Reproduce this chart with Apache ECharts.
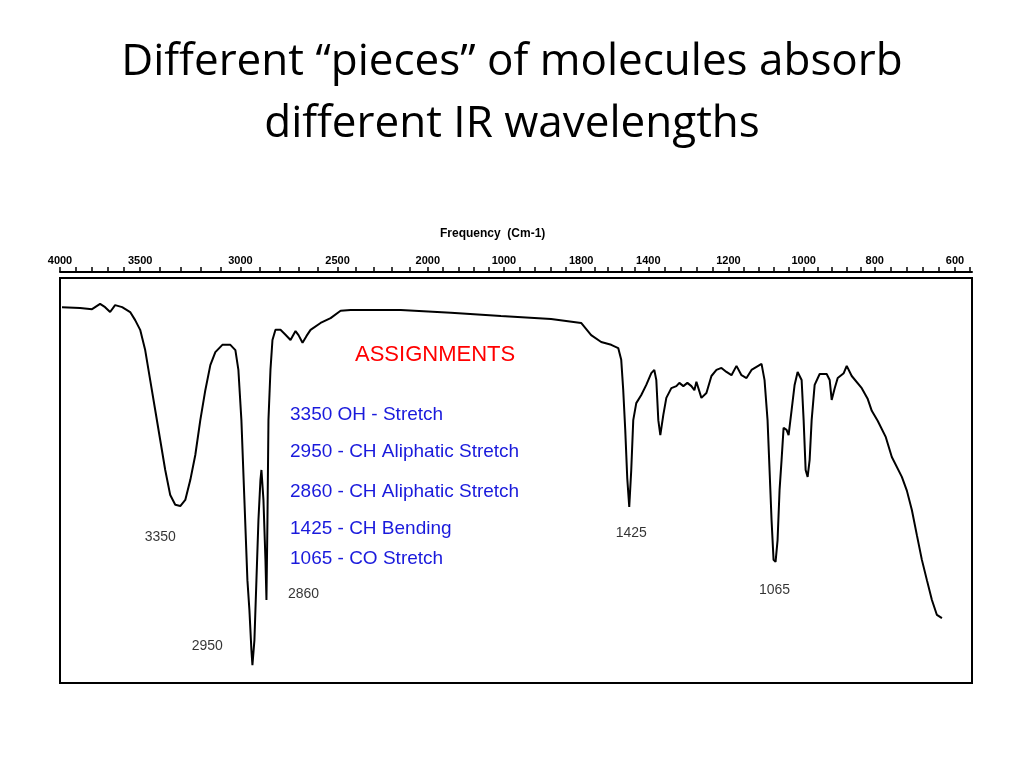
<!DOCTYPE html>
<html>
<head>
<meta charset="utf-8">
<script src="https://cdn.jsdelivr.net/npm/echarts@6/dist/echarts.min.js"></script>
<style>
  html, body { margin: 0; padding: 0; background: #fff; }
  #chart { width: 1024px; height: 768px; }
</style>
</head>
<body>
<div id="chart"></div>
<script>
// tick labels and where they sit along the (non-linear) frequency scale
const tickLabels = ['4000', '3500', '3000', '2500', '2000', '1000', '1800', '1400', '1200', '1000', '800', '600'];
const tickPos = [0, 80, 180, 277, 367, 443, 520, 587, 667, 742, 813, 893];

// spectrum trace: position along scale, % transmittance
const pos = [2, 20, 32, 40, 45, 50, 55, 62, 70, 75, 80, 85, 90, 95, 100, 105, 110, 115, 120, 125,
  130, 135, 140, 145, 150, 155, 162, 170, 175, 178, 181, 184, 187, 189, 191, 192, 194, 196, 198, 200,
  201, 203, 205, 206, 207, 208, 210, 212, 215, 220, 225, 230, 235, 238, 242, 246, 250, 260, 270, 280,
  290, 340, 390, 440, 490, 520, 530, 540, 550, 557, 560, 562, 564, 566, 568, 570, 572, 575, 580, 585,
  590, 593, 595, 597, 599, 602, 605, 610, 615, 618, 622, 626, 630, 633, 635, 640, 645, 650, 655, 660,
  665, 670, 675, 680, 685, 690, 700, 703, 706, 708, 710, 712, 714, 716, 718, 720, 722, 725, 727, 730,
  733, 736, 740, 742, 744, 746, 748, 750, 753, 758, 765, 768, 770, 773, 776, 782, 785, 790, 800, 806,
  810, 816, 824, 830, 840, 845, 850, 855, 860, 865, 870, 875, 880];
const trans = [92.8, 92.6, 92.3, 93.6, 92.8, 91.6, 93.3, 92.8, 91.6, 89.6, 87.2, 82.2, 74.8, 67.4, 60.0, 52.6, 46.4, 44.0, 43.7, 45.2,
  50.1, 56.3, 64.9, 72.3, 78.5, 81.7, 83.5, 83.5, 82.2, 77.3, 64.9, 45.2, 25.4, 18.0, 8.1, 4.4, 10.6, 25.4, 40.2, 50.1,
  52.6, 45.2, 30.4, 20.5, 40.2, 64.9, 77.3, 84.7, 87.2, 87.2, 86.0, 84.7, 86.9, 85.9, 84.0, 85.7, 87.2, 88.9, 90.1, 91.9,
  92.1, 92.1, 91.4, 90.6, 89.9, 88.9, 85.9, 84.2, 83.5, 82.7, 79.8, 72.3, 62.5, 50.6, 43.5, 52.6, 64.9, 69.1, 71.1, 73.6,
  76.5, 77.3, 74.8, 64.9, 61.2, 66.2, 70.4, 72.8, 73.3, 74.1, 73.3, 74.1, 73.3, 72.3, 74.4, 70.4, 71.6, 75.8, 77.3, 77.8,
  76.8, 76.0, 78.3, 76.0, 75.3, 77.3, 78.8, 74.8, 64.9, 52.6, 40.2, 30.4, 29.9, 35.3, 47.7, 55.1, 63.0, 62.5, 61.2, 67.4,
  73.6, 76.8, 74.8, 64.9, 52.6, 50.9, 55.1, 64.9, 73.6, 76.3, 76.3, 74.8, 69.9, 72.8, 75.3, 76.5, 78.3, 75.8, 72.8, 70.1,
  67.2, 64.7, 60.7, 55.8, 50.9, 47.5, 42.7, 36.5, 30.4, 25.4, 20.5, 16.8, 16.0];

// peak labels: [position, transmittance, text]
const peakLabels = [[100, 36, '3350'], [147, 9, '2950'], [243, 22, '2860'], [570, 37, '1425'], [713, 23, '1065']];
const assignTitle = 'ASSIGNMENTS';
const assignLines = ['3350 OH - Stretch', '2950 - CH Aliphatic Stretch', '2860 - CH Aliphatic Stretch',
  '1425 - CH Bending', '1065 - CO Stretch'];
const assignY = [416, 453, 493, 530, 560];

// small tick marks: each labelled interval split into five
const minorPos = [];
for (let i = 0; i < tickPos.length - 1; i++) {
  for (let k = 0; k < 5; k++) minorPos.push(tickPos[i] + (tickPos[i + 1] - tickPos[i]) * k / 5);
}
minorPos.push(tickPos[tickPos.length - 1], 908);

const chart = echarts.init(document.getElementById('chart'));

const graphics = [
  { type: 'text', left: 'center', top: 40, style: { text: 'Different \u201cpieces\u201d of molecules absorb', font: '44px "Open Sans", sans-serif', fill: '#000' } },
  { type: 'text', left: 'center', top: 102, style: { text: 'different IR wavelengths', font: '44px "Open Sans", sans-serif', fill: '#000' } },
  { type: 'text', left: 440, top: 228, style: { text: 'Frequency  (Cm-1)', font: 'bold 12px "Liberation Sans", sans-serif', fill: '#000' } },
  { type: 'text', left: 355, top: 344, style: { text: assignTitle, font: '22px "Liberation Sans", sans-serif', fill: '#f00' } }
];
assignLines.forEach(function (t, i) {
  graphics.push({ type: 'text', left: 290, top: assignY[i] - 11, style: { text: t, font: '19px "Liberation Sans", sans-serif', fill: '#1a1adc' } });
});

chart.setOption({
  animation: false,
  grid: { left: 60, right: 52, top: 278, bottom: 85, show: true, borderColor: '#000', borderWidth: 2, backgroundColor: '#fff' },
  graphic: graphics,
  xAxis: {
    type: 'value', position: 'top', min: 0, max: 910, offset: 6,
    axisLine: { show: true, onZero: false, lineStyle: { color: '#000', width: 2 } },
    axisTick: { show: true, length: 5, customValues: minorPos, lineStyle: { color: '#000', width: 1.5 } },
    axisLabel: {
      show: true, customValues: tickPos, margin: 6,
      formatter: function (v) { return tickLabels[tickPos.indexOf(v)]; },
      color: '#000', fontWeight: 'bold', fontSize: 11, fontFamily: '"Liberation Sans", sans-serif'
    },
    splitLine: { show: false }
  },
  yAxis: { type: 'value', min: 0, max: 100, show: false, splitLine: { show: false } },
  series: [
    {
      type: 'line', data: pos.map(function (p, i) { return [p, trans[i]]; }),
      showSymbol: false, lineStyle: { color: '#000', width: 2 }, itemStyle: { color: '#000' }
    },
    {
      type: 'scatter', data: peakLabels.map(function (d) { return [d[0], d[1], d[2]]; }),
      symbolSize: 0,
      label: { show: true, position: 'inside', formatter: function (p) { return p.data[2]; }, color: '#000', fontSize: 14, fontFamily: '"Liberation Sans", sans-serif' }
    }
  ]
});
</script>
</body>
</html>
